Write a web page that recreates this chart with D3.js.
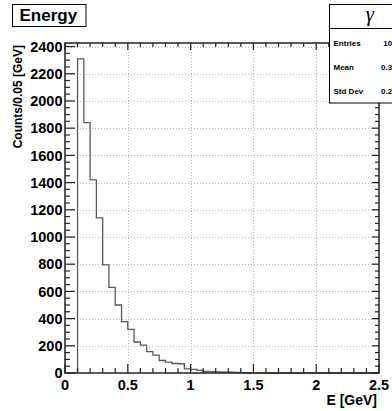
<!DOCTYPE html>
<html>
<head>
<meta charset="utf-8">
<script src="https://cdn.jsdelivr.net/npm/d3@7"></script>
<style>
  html, body { margin: 0; padding: 0; background: #fff; }
  svg { display: block; }
  text { font-family: "Liberation Sans", Arial, Helvetica, sans-serif; font-weight: bold; fill: #000; }
</style>
</head>
<body>
<svg id="chart" width="392" height="411"></svg>
<script>
// ---- data ----
const binWidth = 0.05;
const binStarts = [0.10, 0.15, 0.20, 0.25, 0.30, 0.35, 0.40, 0.45, 0.50, 0.55,
                   0.60, 0.65, 0.70, 0.75, 0.80, 0.85, 0.90, 0.95, 1.00, 1.05,
                   1.10, 1.15, 1.20, 1.25, 1.30, 1.35, 1.40, 1.45];
const counts = [2310, 1840, 1420, 1140, 795, 630, 500, 378, 320, 228,
                205, 157, 132, 92, 80, 70, 68, 30, 26, 20,
                12, 10, 8, 7, 6, 5, 3, 2];
const xTicks = [0, 0.5, 1, 1.5, 2, 2.5];
const xTickLabels = ["0", "0.5", "1", "1.5", "2", "2.5"];
const yTicks = [0, 200, 400, 600, 800, 1000, 1200, 1400, 1600, 1800, 2000, 2200, 2400];
const statNames = ["Entries", "Mean", "Std Dev"];
const statValues = ["10000", "0.3015", "0.2010"];
const titleText = "Energy";
const statsTitle = "γ";
const xTitle = "E [GeV]";
const yTitle = "Counts/0.05 [GeV]";

// ---- layout ----
const svg = d3.select("#chart");
const L = 65, R = 379, T = 43, B = 373;
const x = d3.scaleLinear().domain([0, 2.5]).range([L, R]);
const y = d3.scaleLinear().domain([0, 2426]).range([B, T]);

// grid
const grid = svg.append("g").attr("stroke", "#b8b8b8").attr("stroke-width", 1)
  .attr("stroke-dasharray", "1,2");
xTicks.filter(v => v > 0 && v < 2.5).forEach(v => {
  grid.append("line").attr("x1", Math.round(x(v)) + 0.5).attr("x2", Math.round(x(v)) + 0.5)
    .attr("y1", T).attr("y2", B);
});
yTicks.filter(v => v > 0).forEach(v => {
  grid.append("line").attr("y1", Math.round(y(v)) + 0.5).attr("y2", Math.round(y(v)) + 0.5)
    .attr("x1", L).attr("x2", R);
});

// histogram step path
const pts = [[binStarts[0], 0]];
binStarts.forEach((b, i) => {
  pts.push([b, counts[i]]);
  pts.push([b + binWidth, counts[i]]);
});
pts.push([binStarts[binStarts.length - 1] + binWidth, 0]);
pts.push([2.5, 0]);
svg.append("path")
  .attr("d", d3.line().x(d => x(d[0])).y(d => y(d[1]))(pts))
  .attr("fill", "none").attr("stroke", "#5a5a5a").attr("stroke-width", 1.3);

// ticks
const tk = svg.append("g").attr("stroke", "#222").attr("stroke-width", 1.2);
const xMinor = d3.range(0, 2.5001, 0.1);
xMinor.forEach(v => {
  const major = Math.abs(v * 2 - Math.round(v * 2)) < 1e-6;
  const px = x(v);
  tk.append("line").attr("x1", px).attr("x2", px).attr("y1", B).attr("y2", B - (major ? 9 : 5));
  tk.append("line").attr("x1", px).attr("x2", px).attr("y1", T).attr("y2", T + (major ? 7 : 4));
});
const yMinor = d3.range(0, 2426, 50);
yMinor.forEach(v => {
  const major = v % 200 === 0;
  const py = y(v);
  tk.append("line").attr("y1", py).attr("y2", py).attr("x1", L).attr("x2", L + (major ? 10 : 5));
  tk.append("line").attr("y1", py).attr("y2", py).attr("x1", R).attr("x2", R - (major ? 7 : 4));
});

// frame
svg.append("rect").attr("x", L).attr("y", T).attr("width", R - L).attr("height", B - T)
  .attr("fill", "none").attr("stroke", "#222").attr("stroke-width", 1.5);

// tick labels
svg.append("g").selectAll("text").data(yTicks).join("text")
  .attr("x", 62.5).attr("y", d => y(d)).attr("dy", "0.36em")
  .attr("text-anchor", "end").attr("font-size", 14.5).text(d => d);
svg.append("g").selectAll("text").data(xTicks).join("text")
  .attr("x", d => x(d)).attr("y", 390)
  .attr("text-anchor", "middle").attr("font-size", 14.5).text((d, i) => xTickLabels[i]);

// axis titles
svg.append("text").attr("x", 377).attr("y", 405).attr("text-anchor", "end")
  .attr("font-size", 14).text(xTitle);
svg.append("text").attr("transform", "translate(21.5,45) rotate(-90)")
  .attr("text-anchor", "end").attr("font-size", 12).text(yTitle);

// title box
svg.append("rect").attr("x", 12.5).attr("y", 4.5).attr("width", 73.5).attr("height", 22)
  .attr("fill", "#fff").attr("stroke", "#000").attr("stroke-width", 1);
svg.append("text").attr("x", 19.5).attr("y", 21).attr("font-size", 17).text(titleText);

// stats box
const sx = 329.5, sw = 82;
svg.append("rect").attr("x", sx).attr("y", 4.5).attr("width", sw).attr("height", 98.5)
  .attr("fill", "#fff").attr("stroke", "#000").attr("stroke-width", 1);
svg.append("line").attr("x1", sx).attr("x2", sx + sw).attr("y1", 28.5).attr("y2", 28.5)
  .attr("stroke", "#000").attr("stroke-width", 1);
svg.append("text").attr("x", 370).attr("y", 21).attr("text-anchor", "middle")
  .attr("font-size", 21)
  .style("font-family", "'Liberation Serif', 'DejaVu Serif', serif").style("font-weight", "normal")
  .style("font-style", "italic")
  .text(statsTitle);
const statY = [45.5, 69.5, 93.5];
statNames.forEach((n, i) => {
  svg.append("text").attr("x", 333.5).attr("y", statY[i]).attr("font-size", 8).text(n);
  svg.append("text").attr("x", 405.5).attr("y", statY[i]).attr("text-anchor", "end")
    .attr("font-size", 8).text(statValues[i]);
});
</script>
</body>
</html>
